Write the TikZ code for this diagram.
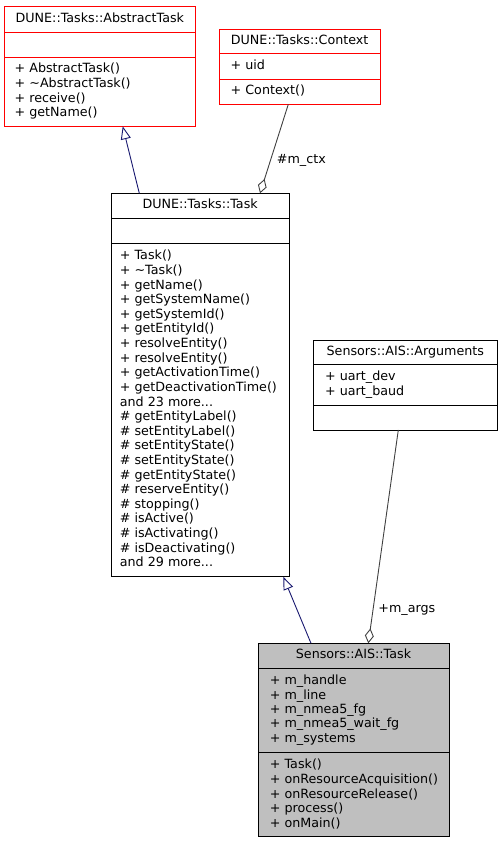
\documentclass[tikz,border=0pt]{standalone}
\usepackage{fontspec}
\setmainfont{DejaVu Sans}
\usepackage{xcolor}
\usetikzlibrary{arrows.meta}
\definecolor{umlred}{RGB}{255,0,0}
\definecolor{umlblue}{RGB}{25,25,112}
\definecolor{umlgray}{RGB}{64,64,64}
\definecolor{umlfill}{RGB}{191,191,191}
\newcommand{\umlfont}{\fontsize{12.7}{14.6}\selectfont}
\newcommand{\moredots}{...}
\tikzset{
  classbox/.style={draw, line width=0.9pt, anchor=north west, inner sep=0pt, outer sep=0pt},
  titletext/.style={anchor=base, inner sep=0pt, font=\umlfont},
  memtext/.style={anchor=base west, inner sep=0pt, font=\umlfont},
  edgelabel/.style={anchor=west, inner sep=0pt, font=\umlfont, text=black},
  inherit/.style={umlblue, line width=0.9pt, -{Triangle[open, length=13pt, width=10pt]}},
  aggreg/.style={umlgray, line width=0.9pt, -{Diamond[open, length=15pt, width=9pt]}},
}

\begin{document}
\begin{tikzpicture}[x=1pt, y=-1pt]
\useasboundingbox (0,0) rectangle (501,843);

% DUNE::Tasks::AbstractTask
\node[classbox, draw=umlred, fill=white, minimum width=190.3pt, minimum height=119.6pt] (abstask) at (4.7,6.7) {};
\draw[umlred, line width=0.9pt] ([yshift=-25.6pt]abstask.north west) -- ([yshift=-25.6pt]abstask.north east);
\draw[umlred, line width=0.9pt] ([yshift=-50.6pt]abstask.north west) -- ([yshift=-50.6pt]abstask.north east);
\node[titletext] (abstask-title) at ([yshift=-16pt]abstask.north) {DUNE::Tasks::AbstractTask};
\foreach \m [count=\i from 0] in {+ AbstractTask(), + \textasciitilde AbstractTask(), + receive(), + getName()}
  \node[memtext] (abstask-op\i) at (14.5, {72.8+14.6*\i}) {\m};

% DUNE::Tasks::Context
\node[classbox, draw=umlred, fill=white, minimum width=160.7pt, minimum height=75.3pt] (ctx) at (219.3,29) {};
\draw[umlred, line width=0.9pt] ([yshift=-24.7pt]ctx.north west) -- ([yshift=-24.7pt]ctx.north east);
\draw[umlred, line width=0.9pt] ([yshift=-50.3pt]ctx.north west) -- ([yshift=-50.3pt]ctx.north east);
\node[titletext] (ctx-title) at ([yshift=-15.6pt]ctx.north) {DUNE::Tasks::Context};
\node[memtext] (ctx-attr0) at (230.5,69.3) {+ uid};
\node[memtext] (ctx-op0) at (230.5,94.9) {+ Context()};

% DUNE::Tasks::Task
\node[classbox, fill=white, minimum width=178.3pt, minimum height=383.4pt] (dtask) at (111,193.3) {};
\draw[line width=0.9pt] ([yshift=-25pt]dtask.north west) -- ([yshift=-25pt]dtask.north east);
\draw[line width=0.9pt] ([yshift=-50pt]dtask.north west) -- ([yshift=-50pt]dtask.north east);
\node[titletext] (dtask-title) at ([yshift=-15.6pt]dtask.north) {DUNE::Tasks::Task};
\foreach \m [count=\i from 0] in {+ Task(), + \textasciitilde Task(), + getName(), + getSystemName(),
    + getSystemId(), + getEntityId(), + resolveEntity(), + resolveEntity(), + getActivationTime(),
    + getDeactivationTime(), and 23 more\moredots, \# getEntityLabel(), \# setEntityLabel(),
    \# setEntityState(), \# setEntityState(), \# getEntityState(), \# reserveEntity(),
    \# stopping(), \# isActive(), \# isActivating(), \# isDeactivating(), and 29 more\moredots}
  \node[memtext] (dtask-op\i) at (119.7, {259.8+14.62*\i}) {\m};

% Sensors::AIS::Arguments
\node[classbox, fill=white, minimum width=183.3pt, minimum height=90pt] (args) at (313.7,340) {};
\draw[line width=0.9pt] ([yshift=-24.7pt]args.north west) -- ([yshift=-24.7pt]args.north east);
\draw[line width=0.9pt] ([yshift=-65.3pt]args.north west) -- ([yshift=-65.3pt]args.north east);
\node[titletext] (args-title) at ([yshift=-15.6pt]args.north) {Sensors::AIS::Arguments};
\foreach \m [count=\i from 0] in {+ uart\_dev, + uart\_baud}
  \node[memtext] (args-attr\i) at (325, {380.5+14.6*\i}) {\m};

% Sensors::AIS::Task
\node[classbox, fill=umlfill, minimum width=191pt, minimum height=193.4pt] (aistask) at (258,643.3) {};
\draw[line width=0.9pt] ([yshift=-25pt]aistask.north west) -- ([yshift=-25pt]aistask.north east);
\draw[line width=0.9pt] ([yshift=-109.4pt]aistask.north west) -- ([yshift=-109.4pt]aistask.north east);
\node[titletext] (aistask-title) at ([yshift=-15.4pt]aistask.north) {Sensors::AIS::Task};
\foreach \m [count=\i from 0] in {+ m\_handle, + m\_line, + m\_nmea5\_fg, + m\_nmea5\_wait\_fg, + m\_systems}
  \node[memtext] (aistask-attr\i) at (269.7, {684.6+14.45*\i}) {\m};
\foreach \m [count=\i from 0] in {+ Task(), + onResourceAcquisition(), + onResourceRelease(), + process(), + onMain()}
  \node[memtext] (aistask-op\i) at (269.7, {768.8+14.6*\i}) {\m};

% relations
\draw[inherit] ([xshift=28.3pt]dtask.north west) -- ([xshift=118pt]abstask.south west);
\draw[aggreg] ([xshift=69pt]ctx.south west) -- ([xshift=149pt]dtask.north west)
  node[edgelabel, pos=0.63, xshift=6pt] (ctx-label) {\#m\_ctx};
\draw[inherit] ([xshift=53pt]aistask.north west) -- ([xshift=172.3pt]dtask.south west);
\draw[aggreg] ([xshift=84.6pt]args.south west) -- ([xshift=110.3pt]aistask.north west)
  node[edgelabel, pos=0.845, xshift=5pt] (args-label) {+m\_args};
\end{tikzpicture}
\end{document}
